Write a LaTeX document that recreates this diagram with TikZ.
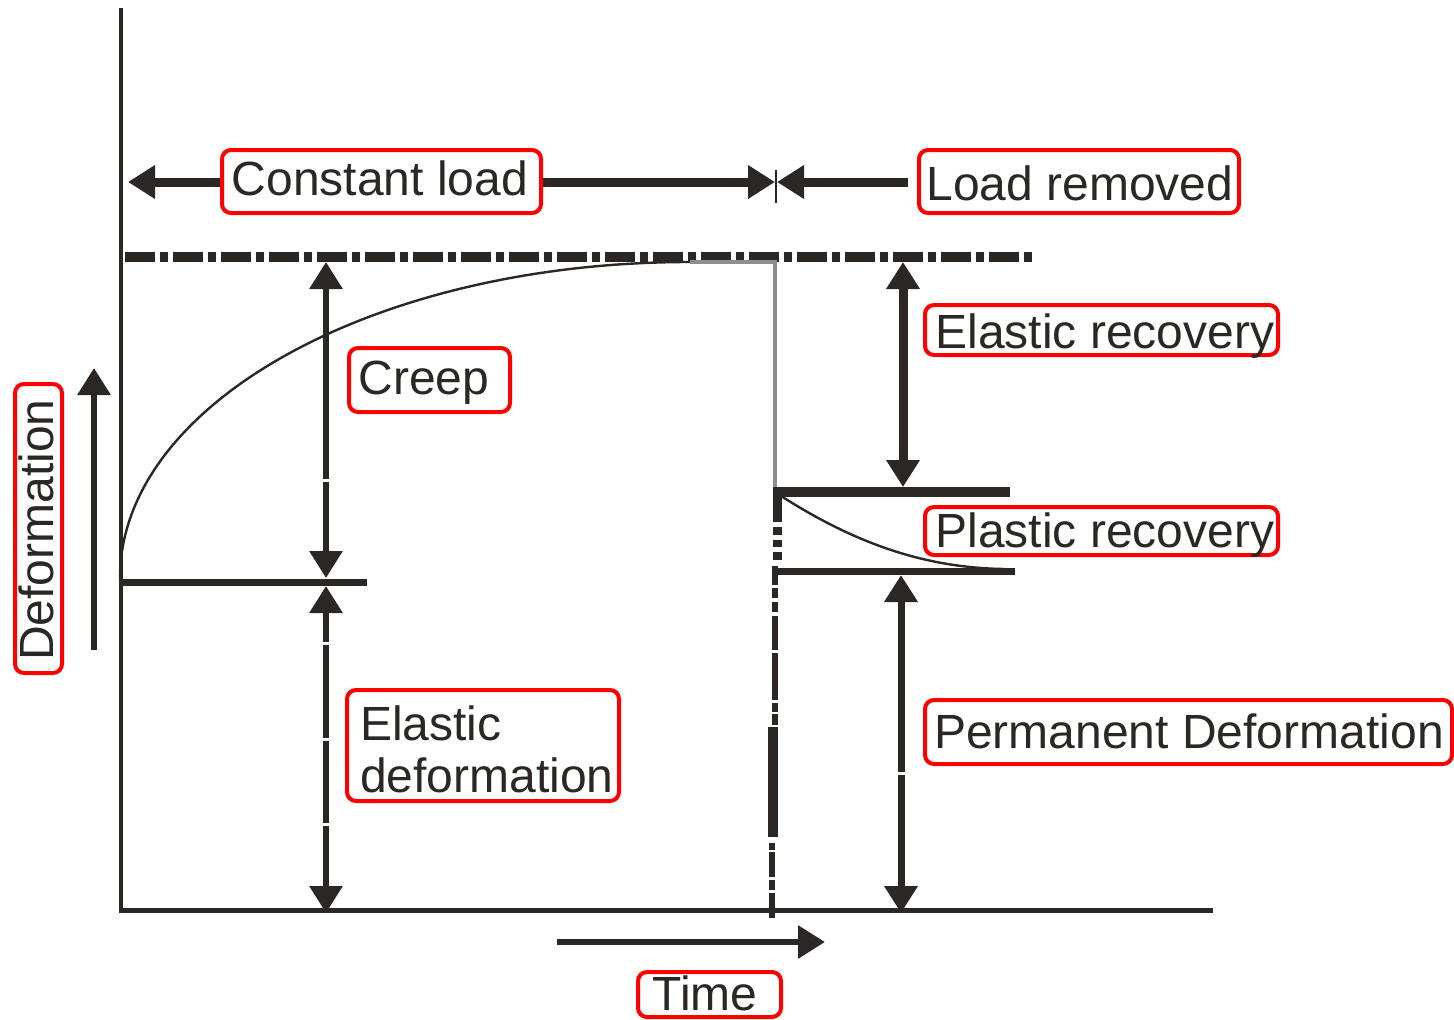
\documentclass[tikz,border=0pt]{standalone}
\usepackage{fontspec}
\setmainfont{Liberation Sans}
\usetikzlibrary{arrows.meta}
\definecolor{ink}{HTML}{2B2724}
\definecolor{tagred}{HTML}{FF0000}
\definecolor{guide}{HTML}{8E8E8E}

\tikzset{
  bighead/.tip={Triangle[width=32pt,length=27pt]},
  tag/.style={draw=tagred, line width=4pt, rounded corners=9pt, fill=white, inner sep=0pt},
  lbl/.style={text=ink, font=\fontsize{48}{52}\selectfont, inner sep=0pt},
  dim/.style={draw=ink, bighead-bighead},
  onearrow/.style={draw=ink, -bighead},
  axisline/.style={draw=ink, line width=4.5pt},
  gap/.style={fill=white}
}

\begin{document}
\begin{tikzpicture}[x=1pt, y=-1pt]
  \useasboundingbox[fill=white] (0,0) rectangle (1454,1020);

  % axes
  \coordinate (ytop) at (121,8);
  \coordinate (ybot) at (121,912.5);
  \coordinate (xleft) at (118.5,910.5);
  \coordinate (xright) at (1213,910.5);
  \draw[axisline] (ytop) -- (ybot);
  \draw[axisline] (xleft) -- (xright);

  % level of total deformation under load
  \coordinate (lvlL) at (125,257);
  \coordinate (lvlR) at (1032,257);
  \draw[ink, line width=10pt, dash pattern=on 30pt off 5pt on 8pt off 5pt] (lvlL) -- (lvlR);

  % creep curve: a quarter ellipse from the elastic level up to the load level
  \coordinate (crS) at (120,578);
  \draw[ink, line width=2.4pt] (crS) arc[start angle=180, end angle=90, x radius=570pt, y radius=316pt];
  \draw[guide, line width=4pt] (690,262) -- (775,262) -- (775,490);

  % elastic deformation level
  \coordinate (elL) at (120,582);
  \coordinate (elR) at (367,582);
  \draw[ink, line width=7pt] (elL) -- (elR);

  % levels after unloading
  \coordinate (unA) at (773,492);
  \coordinate (unB) at (1010,492);
  \coordinate (pmA) at (775,571.5);
  \coordinate (pmB) at (1015,571.5);
  \draw[ink, line width=10pt] (unA) -- (unB);
  \draw[ink, line width=7pt] (pmA) -- (pmB);

  % recovery curve
  \coordinate (rcS) at (781,496);
  \coordinate (rcE) at (1005,569);
  \draw[ink, line width=2.4pt] (rcS) .. controls (850,540) and (920,568) .. (rcE);

  % broken line at the moment of unloading
  \foreach \a/\b in {488/522, 527/535, 540/547, 552/560}
    \draw[ink, line width=9pt] (777,\a) -- (777,\b);
  \foreach \a/\b in {566/585, 588/598, 602/612, 616/650, 653/700, 703/712, 714/725}
    \draw[ink, line width=6pt] (775,\a) -- (775,\b);
  \draw[ink, line width=10pt] (773,727) -- (773,837);
  \foreach \a/\b in {843/850, 852/877, 880/890, 893/918}
    \draw[ink, line width=6pt] (772,\a) -- (772,\b);

  % dimension arrows
  \coordinate (crT) at (326,262);
  \coordinate (crB) at (326,578);
  \coordinate (edT) at (326,586);
  \coordinate (edB) at (326,913);
  \coordinate (erT) at (903,262);
  \coordinate (erB) at (903,487);
  \coordinate (pdT) at (901,575);
  \coordinate (pdB) at (901,913);
  \draw[dim, line width=6pt] (crT) -- (crB);
  \draw[dim, line width=6pt] (edT) -- (edB);
  \draw[dim, line width=9pt] (erT) -- (erB);
  \draw[dim, line width=7pt] (pdT) -- (pdB);
  \foreach \y in {480, 643, 739, 824}
    \fill[gap] (321,\y-1.5) rectangle (331,\y+1.5);
  \fill[gap] (896,772) rectangle (906,775);

  % load phase arrows
  \coordinate (clL) at (128,182);
  \coordinate (clR) at (775,182);
  \coordinate (lrS) at (908,182);
  \coordinate (lrE) at (777,182);
  \coordinate (tkT) at (776,170);
  \coordinate (tkB) at (776,203);
  \draw[dim, line width=9pt] (clL) -- (clR);
  \draw[onearrow, line width=9pt] (lrS) -- (lrE);
  \draw[ink, line width=2pt] (tkT) -- (tkB);

  % axis direction arrows
  \coordinate (dfS) at (94,650);
  \coordinate (dfE) at (94,368);
  \coordinate (tmS) at (557,942);
  \coordinate (tmE) at (825,942);
  \draw[onearrow, line width=6pt] (dfS) -- (dfE);
  \draw[onearrow, line width=6pt] (tmS) -- (tmE);

  % labelled tags
  \node[tag, minimum width=319pt, minimum height=63pt] (tConst) at (381.5,181.5) {};
  \node[tag, minimum width=320pt, minimum height=63pt] (tRem) at (1079,181.5) {};
  \node[tag, minimum width=353pt, minimum height=50pt] (tErec) at (1101.5,330) {};
  \node[tag, minimum width=161pt, minimum height=64pt] (tCreep) at (429.5,380) {};
  \node[tag, minimum width=353pt, minimum height=48pt] (tPrec) at (1101.5,531) {};
  \node[tag, minimum width=272pt, minimum height=111pt] (tEdef) at (483,745.5) {};
  \node[tag, minimum width=527pt, minimum height=64pt] (tPerm) at (1188.5,732) {};
  \node[tag, minimum width=47pt, minimum height=289pt] (tDef) at (38.5,528.5) {};
  \node[tag, minimum width=143pt, minimum height=45pt] (tTime) at (709.5,994.5) {};

  \node[lbl, anchor=base] (xConst) at (380,195) {Constant load};
  \node[lbl, anchor=base] (xRem) at (1080,200) {Load removed};
  \node[lbl, anchor=base] (xErec) at (1105,348) {Elastic recovery};
  \node[lbl, anchor=base] (xCreep) at (424,394) {Creep};
  \node[lbl, anchor=base] (xPrec) at (1105,547) {Plastic recovery};
  \node[lbl, anchor=base west, align=left] (xEdef) at (360,792) {Elastic\\deformation};
  \node[lbl, anchor=base] (xPerm) at (1189,748) {Permanent Deformation};
  \node[lbl, anchor=base, rotate=90] (xDef) at (53,530) {Deformation};
  \node[lbl, anchor=base] (xTime) at (705,1010) {Time};
\end{tikzpicture}
\end{document}
